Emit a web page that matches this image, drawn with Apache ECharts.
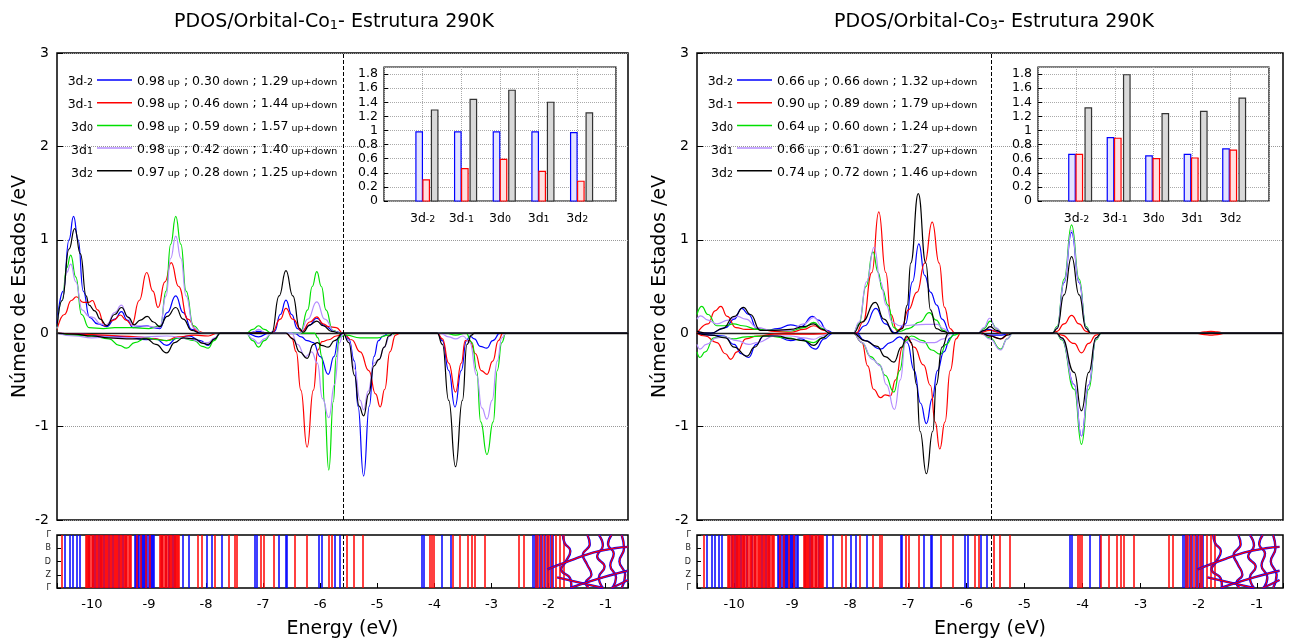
<!DOCTYPE html>
<html>
<head>
<meta charset="utf-8">
<script src="https://cdn.jsdelivr.net/npm/echarts/dist/echarts.min.js"></script>
<style>
html, body { margin: 0; padding: 0; background: #fff; }
#chart { width: 1291px; height: 641px; }
</style>
</head>
<body>
<div id="chart"></div>
<script>
// orbital charges (legend + inset bars)
var orbitalSubs = ['-2', '-1', '0', '1', '2'];
var co1Up = [0.98, 0.98, 0.98, 0.98, 0.97];
var co1Down = [0.30, 0.46, 0.59, 0.42, 0.28];
var co1Total = [1.29, 1.44, 1.57, 1.40, 1.25];
var co3Up = [0.66, 0.90, 0.64, 0.66, 0.74];
var co3Down = [0.66, 0.89, 0.60, 0.61, 0.72];
var co3Total = [1.32, 1.79, 1.24, 1.27, 1.46];
var kLabels = ['Γ', 'B', 'D', 'Z', 'Γ'];
var fermiCo1 = -5.60;
var fermiCo3 = -5.58;

// PDOS Co1, spin up  [energy, states/eV]
var co1UpM2 = [[-10.61,0.10],[-10.5,0.45],[-10.40,1.00],[-10.32,1.25],[-10.24,1.00],[-10.15,0.45],[-10.04,0.17],[-9.90,0.10],[-9.74,0.07],[-9.60,0.15],[-9.48,0.23],[-9.38,0.14],[-9.28,0.06],[-9.15,0.07],[-9.04,0.08],[-8.92,0.06],[-8.81,0.05],[-8.68,0.22],[-8.53,0.40],[-8.40,0.22],[-8.25,0.04],[-8.10,0],[-7.3,0],[-7.08,0.02],[-6.9,0],[-6.80,0.02],[-6.70,0.20],[-6.60,0.355],[-6.50,0.20],[-6.40,0.05],[-6.32,0.02],[-6.20,0.08],[-6.06,0.16],[-5.92,0.08],[-5.75,0.02],[-5.6,0],[-0.61,0]];
var co1UpM1 = [[-10.61,0.04],[-10.48,0.20],[-10.36,0.35],[-10.27,0.39],[-10.15,0.33],[-10.05,0.33],[-9.99,0.35],[-9.90,0.25],[-9.77,0.08],[-9.62,0.14],[-9.50,0.195],[-9.40,0.14],[-9.30,0.09],[-9.17,0.35],[-9.04,0.65],[-8.93,0.45],[-8.84,0.275],[-8.72,0.55],[-8.61,0.755],[-8.48,0.50],[-8.32,0.15],[-8.15,0.02],[-8.0,0],[-6.85,0],[-6.70,0.15],[-6.60,0.265],[-6.48,0.15],[-6.32,0.02],[-6.18,0.12],[-6.06,0.175],[-5.95,0.10],[-5.85,0.07],[-5.72,0.06],[-5.60,0],[-0.61,0]];
var co1Up0 = [[-10.61,0.05],[-10.52,0.35],[-10.44,0.70],[-10.37,0.835],[-10.28,0.60],[-10.18,0.20],[-10.05,0.06],[-9.8,0.05],[-9.6,0.06],[-9.3,0.06],[-9.0,0.05],[-8.8,0.08],[-8.70,0.45],[-8.62,0.95],[-8.53,1.25],[-8.44,0.95],[-8.35,0.45],[-8.22,0.08],[-8.07,0],[-7.3,0],[-7.18,0.04],[-7.08,0.08],[-6.98,0.04],[-6.85,0],[-6.35,0],[-6.22,0.25],[-6.14,0.50],[-6.06,0.66],[-5.98,0.50],[-5.90,0.25],[-5.78,0.03],[-5.65,0],[-0.61,0]];
var co1UpP1 = [[-10.61,0.05],[-10.52,0.35],[-10.44,0.65],[-10.37,0.74],[-10.28,0.55],[-10.17,0.25],[-10.05,0.18],[-9.98,0.17],[-9.85,0.10],[-9.74,0.09],[-9.60,0.22],[-9.48,0.30],[-9.38,0.18],[-9.28,0.08],[-9.04,0.075],[-8.81,0.06],[-8.70,0.40],[-8.62,0.80],[-8.53,1.04],[-8.44,0.80],[-8.35,0.40],[-8.22,0.06],[-8.07,0],[-7.2,0],[-7.08,0.04],[-6.95,0],[-6.35,0],[-6.22,0.15],[-6.06,0.335],[-5.92,0.15],[-5.75,0.02],[-5.65,0],[-0.61,0]];
var co1UpP2 = [[-10.61,0.07],[-10.52,0.35],[-10.40,0.90],[-10.30,1.12],[-10.20,0.85],[-10.10,0.40],[-10.05,0.30],[-9.95,0.24],[-9.85,0.15],[-9.74,0.08],[-9.60,0.20],[-9.48,0.275],[-9.36,0.17],[-9.26,0.09],[-9.15,0.14],[-9.03,0.18],[-8.92,0.12],[-8.81,0.07],[-8.68,0.18],[-8.53,0.275],[-8.40,0.15],[-8.25,0.03],[-8.1,0],[-6.85,0],[-6.72,0.40],[-6.60,0.67],[-6.48,0.40],[-6.36,0.05],[-6.30,0.01],[-6.18,0.09],[-6.06,0.13],[-5.95,0.08],[-5.80,0.02],[-5.65,0],[-0.61,0]];

// PDOS Co1, spin down
var co1DnM2 = [[-10.61,0],[-10.2,-0.01],[-9.8,-0.03],[-9.4,-0.04],[-9.04,-0.07],[-8.88,-0.06],[-8.69,-0.13],[-8.50,-0.05],[-8.3,-0.03],[-8.10,-0.08],[-7.96,-0.13],[-7.85,-0.06],[-7.75,0],[-7.3,0],[-7.08,-0.04],[-6.9,0],[-6.45,0],[-6.33,-0.04],[-6.23,-0.08],[-6.12,-0.10],[-6.0,-0.25],[-5.86,-0.44],[-5.76,-0.25],[-5.68,-0.05],[-5.60,0],[-5.50,-0.06],[-5.40,-0.30],[-5.34,-0.78],[-5.24,-1.53],[-5.14,-0.78],[-5.06,-0.25],[-4.98,-0.08],[-4.90,-0.03],[-4.80,0],[-3.95,0],[-3.86,-0.08],[-3.75,-0.40],[-3.64,-0.79],[-3.53,-0.40],[-3.44,-0.08],[-3.38,-0.03],[-3.30,-0.06],[-3.20,-0.14],[-3.08,-0.16],[-2.98,-0.08],[-2.85,0],[-0.61,0]];
var co1DnM1 = [[-10.61,0],[-10.2,-0.01],[-9.8,-0.02],[-9.5,-0.03],[-9.2,-0.04],[-8.9,-0.06],[-8.69,-0.08],[-8.5,-0.04],[-8.2,-0.02],[-7.96,-0.03],[-7.8,0],[-6.60,0],[-6.50,-0.05],[-6.42,-0.20],[-6.34,-0.61],[-6.23,-1.22],[-6.12,-0.61],[-6.04,-0.18],[-5.97,-0.09],[-5.85,-0.07],[-5.72,-0.03],[-5.60,0],[-5.45,-0.07],[-5.30,-0.20],[-5.15,-0.40],[-5.03,-0.65],[-4.95,-0.79],[-4.87,-0.60],[-4.78,-0.20],[-4.68,-0.02],[-4.6,0],[-3.95,0],[-3.86,-0.06],[-3.75,-0.32],[-3.63,-0.63],[-3.53,-0.32],[-3.46,-0.08],[-3.38,-0.08],[-3.28,-0.22],[-3.18,-0.40],[-3.08,-0.44],[-2.98,-0.30],[-2.88,-0.08],[-2.80,0],[-0.61,0]];
var co1Dn0 = [[-10.61,0],[-10.3,-0.02],[-10.0,-0.03],[-9.7,-0.06],[-9.52,-0.13],[-9.39,-0.16],[-9.25,-0.10],[-9.04,-0.05],[-8.85,-0.07],[-8.69,-0.08],[-8.45,-0.05],[-8.2,-0.08],[-8.07,-0.14],[-7.96,-0.16],[-7.86,-0.08],[-7.75,0],[-7.3,0],[-7.18,-0.08],[-7.08,-0.15],[-6.98,-0.08],[-6.85,0],[-6.10,0],[-6.04,-0.05],[-5.97,-0.25],[-5.93,-0.73],[-5.85,-1.465],[-5.77,-0.73],[-5.72,-0.25],[-5.66,-0.04],[-5.55,-0.02],[-5.30,-0.05],[-5.0,-0.05],[-4.80,-0.02],[-4.65,0],[-3.8,0],[-3.63,-0.02],[-3.45,0],[-3.34,-0.10],[-3.26,-0.40],[-3.19,-0.95],[-3.08,-1.30],[-2.97,-0.95],[-2.90,-0.40],[-2.82,-0.10],[-2.75,0],[-0.61,0]];
var co1DnP1 = [[-10.61,0],[-10.3,-0.03],[-10.0,-0.05],[-9.7,-0.04],[-9.39,-0.05],[-9.04,-0.04],[-8.69,-0.03],[-8.3,-0.06],[-8.05,-0.10],[-7.96,-0.10],[-7.85,-0.05],[-7.75,0],[-7.3,0],[-7.18,-0.06],[-7.08,-0.11],[-6.98,-0.06],[-6.85,0],[-6.50,0],[-6.40,-0.12],[-6.26,-0.25],[-6.15,-0.20],[-6.05,-0.32],[-5.96,-0.70],[-5.85,-0.905],[-5.75,-0.55],[-5.66,-0.10],[-5.60,0],[-5.50,-0.08],[-5.40,-0.38],[-5.30,-0.72],[-5.24,-0.82],[-5.16,-0.62],[-5.06,-0.32],[-4.97,-0.28],[-4.88,-0.15],[-4.78,-0.03],[-4.70,0],[-3.90,0],[-3.75,-0.04],[-3.63,-0.06],[-3.50,-0.03],[-3.38,-0.10],[-3.26,-0.45],[-3.17,-0.80],[-3.08,-0.92],[-2.99,-0.72],[-2.90,-0.30],[-2.82,-0.05],[-2.75,0],[-0.61,0]];
var co1DnP2 = [[-10.61,0],[-10.3,-0.01],[-10.0,-0.03],[-9.7,-0.05],[-9.39,-0.06],[-9.04,-0.06],[-8.88,-0.12],[-8.69,-0.21],[-8.55,-0.10],[-8.40,-0.05],[-8.2,-0.06],[-8.05,-0.11],[-7.96,-0.12],[-7.85,-0.06],[-7.75,0],[-6.60,0],[-6.48,-0.06],[-6.36,-0.20],[-6.23,-0.27],[-6.12,-0.12],[-6.05,-0.10],[-5.98,-0.13],[-5.86,-0.15],[-5.75,-0.08],[-5.60,0],[-5.50,-0.10],[-5.40,-0.45],[-5.32,-0.78],[-5.24,-0.885],[-5.15,-0.65],[-5.06,-0.35],[-4.97,-0.28],[-4.88,-0.15],[-4.80,-0.03],[-4.72,0],[-3.95,0],[-3.86,-0.12],[-3.75,-0.72],[-3.63,-1.43],[-3.51,-0.72],[-3.43,-0.12],[-3.35,-0.02],[-3.3,0],[-0.61,0]];

// PDOS Co3, spin up
var co3UpM2 = [[-10.64,0.01],[-10.4,0],[-10.15,0.06],[-10.0,0.15],[-9.87,0.265],[-9.75,0.20],[-9.61,0.05],[-9.45,0.03],[-9.25,0.05],[-9.03,0.09],[-8.85,0.07],[-8.65,0.18],[-8.55,0.14],[-8.40,0.03],[-8.29,0],[-7.90,0],[-7.75,0.08],[-7.56,0.265],[-7.40,0.10],[-7.22,0],[-7.05,0.10],[-6.93,0.55],[-6.82,0.957],[-6.72,0.62],[-6.62,0.44],[-6.51,0.30],[-6.42,0.15],[-6.28,0],[-5.80,0],[-5.62,0.04],[-5.50,0.02],[-5.35,0],[-4.52,0],[-4.44,0.06],[-4.32,0.54],[-4.19,1.08],[-4.06,0.54],[-3.94,0.06],[-3.86,0],[-0.55,0]];
var co3UpM1 = [[-10.64,0],[-10.45,0.10],[-10.33,0.24],[-10.23,0.287],[-10.12,0.18],[-9.97,0.06],[-9.80,0.04],[-9.55,0.04],[-9.3,0.02],[-9.03,0.01],[-8.8,0.04],[-8.63,0.08],[-8.45,0.03],[-8.3,0],[-7.90,0],[-7.78,0.12],[-7.63,0.65],[-7.51,1.30],[-7.39,0.65],[-7.30,0.20],[-7.20,0.03],[-7.12,0.05],[-7.00,0.25],[-6.85,0.44],[-6.72,0.75],[-6.59,1.19],[-6.47,0.75],[-6.38,0.28],[-6.28,0.05],[-6.20,0],[-5.8,0],[-5.59,0.03],[-5.4,0],[-4.52,0],[-4.44,0.02],[-4.32,0.10],[-4.19,0.19],[-4.06,0.10],[-3.94,0.02],[-3.86,0],[-2.05,0],[-1.90,0.015],[-1.79,0.02],[-1.68,0.015],[-1.55,0],[-0.55,0]];
var co3Up0 = [[-10.64,0.20],[-10.56,0.287],[-10.45,0.20],[-10.30,0.08],[-10.15,0.08],[-10.01,0.10],[-9.85,0.08],[-9.6,0.04],[-9.3,0.03],[-9.03,0.025],[-8.80,0.06],[-8.63,0.115],[-8.48,0.05],[-8.35,0],[-7.95,0],[-7.85,0.10],[-7.73,0.50],[-7.61,0.87],[-7.52,0.65],[-7.45,0.47],[-7.35,0.30],[-7.25,0.06],[-7.15,0.02],[-7.0,0.05],[-6.80,0.12],[-6.64,0.22],[-6.52,0.14],[-6.40,0.03],[-6.28,0],[-5.80,0],[-5.70,0.05],[-5.59,0.13],[-5.48,0.05],[-5.38,0],[-4.52,0],[-4.44,0.07],[-4.32,0.58],[-4.19,1.16],[-4.06,0.58],[-3.94,0.07],[-3.86,0],[-0.55,0]];
var co3UpP1 = [[-10.64,0.15],[-10.58,0.186],[-10.45,0.14],[-10.30,0.10],[-10.10,0.14],[-9.95,0.18],[-9.80,0.15],[-9.60,0.06],[-9.35,0.03],[-9.03,0.03],[-8.80,0.10],[-8.63,0.17],[-8.48,0.07],[-8.35,0],[-7.95,0],[-7.85,0.12],[-7.72,0.55],[-7.59,0.92],[-7.48,0.55],[-7.38,0.30],[-7.28,0.12],[-7.15,0.08],[-7.05,0.08],[-6.90,0.09],[-6.70,0.095],[-6.50,0.095],[-6.40,0.05],[-6.28,0],[-5.80,0],[-5.70,0.06],[-5.60,0.16],[-5.50,0.06],[-5.38,0],[-4.52,0],[-4.44,0.06],[-4.32,0.55],[-4.19,1.10],[-4.06,0.55],[-3.94,0.06],[-3.86,0],[-0.55,0]];
var co3UpP2 = [[-10.64,0.02],[-10.4,0],[-10.2,0.05],[-10.0,0.18],[-9.84,0.276],[-9.72,0.20],[-9.55,0.03],[-9.30,0.03],[-9.03,0.04],[-8.80,0.07],[-8.63,0.10],[-8.48,0.04],[-8.35,0],[-7.95,0],[-7.80,0.12],[-7.57,0.33],[-7.42,0.15],[-7.25,0],[-7.10,0.05],[-7.02,0.30],[-6.96,0.75],[-6.83,1.495],[-6.70,0.75],[-6.62,0.25],[-6.52,0.05],[-6.40,0.02],[-6.30,0],[-5.80,0],[-5.70,0.03],[-5.59,0.07],[-5.48,0.03],[-5.38,0],[-4.52,0],[-4.44,0.05],[-4.32,0.41],[-4.19,0.82],[-4.06,0.41],[-3.94,0.05],[-3.86,0],[-0.55,0]];

// PDOS Co3, spin down
var co3DnM2 = [[-10.64,0],[-10.4,-0.02],[-10.18,-0.03],[-10.0,-0.12],[-9.88,-0.22],[-9.75,-0.26],[-9.62,-0.12],[-9.49,-0.03],[-9.30,-0.03],[-9.03,-0.08],[-8.85,-0.06],[-8.60,-0.17],[-8.45,-0.06],[-8.30,0],[-7.90,0],[-7.75,-0.08],[-7.48,-0.17],[-7.31,-0.10],[-7.15,-0.04],[-7.02,-0.10],[-6.90,-0.40],[-6.79,-0.75],[-6.69,-0.968],[-6.59,-0.70],[-6.50,-0.40],[-6.39,-0.20],[-6.28,-0.05],[-6.20,0],[-5.80,0],[-5.60,-0.02],[-5.40,-0.02],[-5.25,0],[-4.45,0],[-4.36,-0.06],[-4.145,-0.55],[-4.02,-1.10],[-3.895,-0.55],[-3.77,-0.06],[-3.68,0],[-0.55,0]];
var co3DnM1 = [[-10.64,0],[-10.50,-0.03],[-10.30,-0.10],[-10.15,-0.22],[-10.06,-0.28],[-9.95,-0.20],[-9.80,-0.06],[-9.60,-0.03],[-9.30,-0.01],[-8.63,-0.01],[-8.3,0],[-7.95,0],[-7.80,-0.10],[-7.70,-0.35],[-7.60,-0.60],[-7.48,-0.69],[-7.40,-0.66],[-7.31,-0.67],[-7.22,-0.50],[-7.10,-0.15],[-7.02,-0.04],[-6.90,-0.15],[-6.74,-0.34],[-6.62,-0.56],[-6.54,-0.95],[-6.46,-1.24],[-6.37,-0.95],[-6.28,-0.40],[-6.18,-0.06],[-6.10,0],[-5.80,0],[-5.60,-0.03],[-5.41,-0.06],[-5.25,0],[-4.45,0],[-4.36,-0.02],[-4.145,-0.11],[-4.02,-0.21],[-3.895,-0.11],[-3.77,-0.02],[-3.68,0],[-2.05,0],[-1.90,-0.015],[-1.79,-0.02],[-1.68,-0.015],[-1.55,0],[-0.55,0]];
var co3Dn0 = [[-10.64,-0.20],[-10.59,-0.26],[-10.50,-0.20],[-10.35,-0.05],[-10.20,-0.04],[-10.01,-0.06],[-9.80,-0.04],[-9.44,-0.03],[-9.10,-0.05],[-8.80,-0.08],[-8.63,-0.10],[-8.48,-0.05],[-8.35,0],[-7.95,0],[-7.80,-0.10],[-7.65,-0.25],[-7.51,-0.33],[-7.40,-0.45],[-7.25,-0.63],[-7.15,-0.40],[-7.05,-0.08],[-6.95,-0.03],[-6.75,-0.08],[-6.60,-0.18],[-6.45,-0.225],[-6.35,-0.12],[-6.22,-0.02],[-6.10,0],[-5.75,0],[-5.60,-0.05],[-5.41,-0.17],[-5.30,-0.06],[-5.20,0],[-4.45,0],[-4.36,-0.07],[-4.145,-0.60],[-4.02,-1.19],[-3.895,-0.60],[-3.77,-0.07],[-3.68,0],[-0.55,0]];
var co3DnP1 = [[-10.64,-0.12],[-10.59,-0.17],[-10.48,-0.12],[-10.30,-0.05],[-10.18,-0.04],[-9.95,-0.08],[-9.75,-0.12],[-9.60,-0.10],[-9.30,-0.03],[-9.03,-0.03],[-8.80,-0.05],[-8.63,-0.065],[-8.48,-0.03],[-8.35,0],[-7.95,0],[-7.80,-0.10],[-7.62,-0.28],[-7.48,-0.35],[-7.38,-0.55],[-7.24,-0.817],[-7.14,-0.50],[-7.05,-0.10],[-6.95,-0.06],[-6.75,-0.10],[-6.55,-0.10],[-6.40,-0.06],[-6.25,0],[-5.75,0],[-5.60,-0.06],[-5.41,-0.18],[-5.30,-0.06],[-5.20,0],[-4.45,0],[-4.36,-0.06],[-4.145,-0.55],[-4.02,-1.10],[-3.895,-0.55],[-3.77,-0.06],[-3.68,0],[-0.55,0]];
var co3DnP2 = [[-10.64,0],[-10.40,-0.02],[-10.15,-0.05],[-10.00,-0.15],[-9.78,-0.245],[-9.65,-0.15],[-9.49,-0.03],[-9.25,-0.03],[-9.03,-0.06],[-8.80,-0.08],[-8.63,-0.13],[-8.48,-0.05],[-8.35,0],[-7.95,0],[-7.75,-0.08],[-7.54,-0.14],[-7.40,-0.25],[-7.25,-0.31],[-7.12,-0.15],[-7.03,-0.03],[-6.95,-0.10],[-6.86,-0.55],[-6.80,-1.05],[-6.69,-1.505],[-6.58,-1.05],[-6.52,-0.55],[-6.42,-0.15],[-6.31,0],[-5.75,0],[-5.60,-0.03],[-5.41,-0.06],[-5.30,-0.02],[-5.20,0],[-4.45,0],[-4.36,-0.05],[-4.145,-0.42],[-4.02,-0.83],[-3.895,-0.42],[-3.77,-0.05],[-3.68,0],[-0.55,0]];

// band structure strip: flat bands (eV) and dispersive bands [eV, k]
var bandsBlue = [-10.47,-10.39,-10.33,-10.27,-10.21,-10.05,-9.99,-9.95,-9.88,-9.84,-9.79,-9.70,-9.64,-9.53,-9.46,-9.40,-9.25,-9.23,-9.21,-9.19,-9.17,-9.15,-9.13,-9.11,-9.09,-9.07,-9.05,-9.03,-9.01,-8.99,-8.97,-8.95,-8.93,-8.91,-8.78,-8.70,-8.66,-8.59,-8.55,-8.40,-8.31,-7.99,-7.90,-7.72,-7.14,-7.12,-6.73,-6.61,-6.59,-6.03,-5.97,-5.75,-5.65,-4.23,-4.18,-3.87,-3.71,-2.27,-2.24,-2.20,-2.16,-2.12,-2.06,-2.02,-1.97,-1.93];
var bandsRed = [-10.53,-10.11,-10.09,-10.07,-10.05,-10.03,-10.01,-9.98,-9.96,-9.94,-9.92,-9.90,-9.87,-9.85,-9.83,-9.81,-9.78,-9.76,-9.74,-9.72,-9.69,-9.67,-9.65,-9.62,-9.60,-9.58,-9.56,-9.54,-9.51,-9.49,-9.47,-9.44,-9.42,-9.40,-9.38,-9.36,-9.33,-9.31,-9.22,-9.14,-9.06,-8.98,-8.81,-8.79,-8.77,-8.75,-8.73,-8.71,-8.68,-8.66,-8.64,-8.62,-8.60,-8.57,-8.55,-8.53,-8.51,-8.49,-8.47,-8.14,-8.08,-7.84,-7.61,-7.49,-7.46,-7.05,-6.99,-6.82,-6.44,-6.23,-5.85,-5.79,-5.53,-5.42,-5.26,-4.08,-4.05,-4.01,-3.68,-3.55,-3.41,-3.35,-3.30,-3.12,-2.52,-2.44,-2.23,-2.19,-2.14,-2.09,-2.04,-1.99,-1.95,-1.87,-1.80,-1.73];
var bandCurves = [
  [[-1.75,0],[-1.72,0.6],[-1.62,1.2],[-1.70,2.0],[-1.78,2.6],[-1.62,3.3],[-1.60,4]],
  [[-1.32,0],[-1.28,0.7],[-1.40,1.5],[-1.33,2.2],[-1.25,3.0],[-1.35,3.6],[-1.30,4]],
  [[-1.12,0],[-1.05,0.8],[-1.15,1.6],[-1.02,2.4],[-1.12,3.2],[-1.05,4]],
  [[-0.90,0],[-0.96,0.7],[-0.86,1.4],[-0.92,2.3],[-0.82,3.2],[-0.88,4]],
  [[-0.72,0],[-0.68,1.0],[-0.76,2.0],[-0.66,3.0],[-0.72,4]],
  [[-2.02,2.6],[-1.85,2.3],[-1.60,1.9],[-1.35,1.5],[-1.10,1.2],[-0.85,1.0],[-0.61,0.9]],
  [[-1.85,3.2],[-1.55,3.5],[-1.25,3.8],[-1.05,4]],
  [[-1.62,4],[-1.35,3.6],[-1.05,3.2],[-0.80,2.9],[-0.61,2.7]],
  [[-0.61,3.4],[-0.75,3.7],[-0.90,4]]
];

var colors = ['#0000ff', '#ff0000', '#00e000', '#b48cff', '#000000'];
var font = 'DejaVu Sans';

var chart = echarts.init(document.getElementById('chart'));

function pdos(name, data, color, axis, fermi) {
  var s = {
    type: 'line', name: name, data: data, xAxisIndex: axis, yAxisIndex: axis,
    smooth: 0.5, smoothMonotone: 'x', showSymbol: false, symbol: 'none', silent: true,
    lineStyle: { color: color, width: 1.2 }, itemStyle: { color: color }
  };
  if (fermi !== undefined) {
    s.markLine = { silent: true, symbol: ['none', 'none'], label: { show: false },
      lineStyle: { type: 'dashed', color: '#000', width: 1 }, data: [{ xAxis: fermi }] };
  }
  return s;
}

function bars(values, axis, offset, fill, stroke) {
  return {
    type: 'custom', xAxisIndex: axis, yAxisIndex: axis, silent: true, z: 3,
    data: values.map(function (v, i) { return [i + 1, v]; }),
    renderItem: function (params, api) {
      var top = api.coord([api.value(0), api.value(1)]);
      var base = api.coord([api.value(0), 0]);
      return { type: 'rect',
        shape: { x: top[0] + offset - 3.25, y: top[1], width: 6.5, height: base[1] - top[1] },
        style: { fill: fill, stroke: stroke, lineWidth: 1.2 } };
    }
  };
}

function bandSeries(axis, fermi) {
  var out = [];
  out.push({ type: 'lines', coordinateSystem: 'cartesian2d', xAxisIndex: axis, yAxisIndex: axis, silent: true,
    lineStyle: { color: '#0000ff', width: 1.5, opacity: 1 },
    data: bandsBlue.map(function (e) { return { coords: [[e, 0], [e, 4]] }; }) });
  out.push({ type: 'lines', coordinateSystem: 'cartesian2d', xAxisIndex: axis, yAxisIndex: axis, silent: true,
    lineStyle: { color: '#ff0000', width: 1.5, opacity: 1 },
    data: bandsRed.map(function (e) { return { coords: [[e, 0], [e, 4]] }; }) });
  bandCurves.forEach(function (c, i) {
    out.push({ type: 'line', data: c, xAxisIndex: axis, yAxisIndex: axis, smooth: 0.5, showSymbol: false,
      symbol: 'none', silent: true, lineStyle: { color: '#0000ff', width: 2.4 } });
    var red = { type: 'line', data: c, xAxisIndex: axis, yAxisIndex: axis, smooth: 0.5, showSymbol: false,
      symbol: 'none', silent: true, lineStyle: { color: '#ff0000', width: 1.2 } };
    if (i === 0) {
      red.markLine = { silent: true, symbol: ['none', 'none'], label: { show: false },
        lineStyle: { type: 'dashed', color: '#000', width: 1 }, data: [{ xAxis: fermi }] };
    }
    out.push(red);
  });
  return out;
}

function subText(s) { return '{n|3d}{s|' + s + '}'; }

var richLegend = {
  n: { fontFamily: font, fontSize: 12.5, color: '#000', lineHeight: 16, verticalAlign: 'bottom' },
  s: { fontFamily: font, fontSize: 9.5, color: '#000', lineHeight: 5, verticalAlign: 'bottom' }
};

function legendFor(prefix, left, up, down, total) {
  return {
    orient: 'vertical', left: left, top: 75, itemWidth: 35, itemHeight: 1.5, itemGap: 9.7,
    icon: 'rect', selectedMode: false, padding: 0,
    data: orbitalSubs.map(function (s, i) { return prefix + i; }),
    formatter: function (name) {
      var i = +name.slice(-1);
      return '{n|' + up[i].toFixed(2) + '}{s| up}{n| ; ' + down[i].toFixed(2) + '}{s| down}{n| ; ' +
        total[i].toFixed(2) + '}{s| up+down}';
    },
    textStyle: { rich: richLegend }
  };
}

function orbitalLabels(right) {
  return orbitalSubs.map(function (s, i) {
    return { type: 'text', x: right, y: 80 + i * 23,
      style: { text: subText(s), align: 'right', verticalAlign: 'middle', rich: richLegend } };
  });
}

function mainAxes(idx, min, max) {
  var x = { gridIndex: idx, type: 'value', min: min, max: max,
    axisLine: { show: true, onZero: true, lineStyle: { color: '#222', width: 1.4 } },
    axisTick: { show: false }, axisLabel: { show: false }, splitLine: { show: false } };
  var y = { gridIndex: idx, type: 'value', min: -2, max: 3, interval: 1,
    name: 'Número de Estados /eV', nameLocation: 'middle', nameGap: 27,
    nameTextStyle: { fontFamily: font, fontSize: 19, color: '#000' },
    axisLine: { show: false }, axisTick: { show: true, inside: true, length: 6, lineStyle: { color: '#000' } },
    axisLabel: { fontFamily: font, fontSize: 14, color: '#000', margin: 8 },
    splitLine: { show: true, lineStyle: { color: '#999', type: 'dotted', width: 1 } } };
  return [x, y];
}

function bandAxes(idx, min, max) {
  var x = { gridIndex: idx, type: 'value', min: min, max: max, splitNumber: 10, minInterval: 1, maxInterval: 1,
    name: 'Energy (eV)', nameLocation: 'middle', nameGap: 32,
    nameTextStyle: { fontFamily: font, fontSize: 19, color: '#000' },
    axisLine: { show: false, onZero: false }, axisTick: { show: true, inside: true, length: 5, lineStyle: { color: '#000' } },
    axisLabel: { fontFamily: font, fontSize: 13, color: '#000', margin: 10,
      formatter: function (v) { return Math.abs(v - Math.round(v)) < 1e-6 ? String(Math.round(v)) : ''; } },
    splitLine: { show: false } };
  var y = { gridIndex: idx, type: 'value', min: 0, max: 4, interval: 1, inverse: true,
    axisLine: { show: false, onZero: false }, axisTick: { show: true, inside: true, length: 4, lineStyle: { color: '#000' } },
    axisLabel: { fontFamily: font, fontSize: 8, color: '#222', margin: 6,
      formatter: function (v) { return kLabels[Math.round(v)]; } },
    splitLine: { show: false } };
  return [x, y];
}

function insetAxes(idx) {
  var x = { gridIndex: idx, type: 'value', min: 0, max: 6, interval: 1, z: 3,
    axisLine: { show: false, onZero: false }, axisTick: { show: false },
    axisLabel: { margin: 8, formatter: function (v) { return v >= 1 && v <= 5 ? subText(orbitalSubs[v - 1]) : ''; },
      rich: richLegend },
    splitLine: { show: true, lineStyle: { color: '#aaa', type: 'dotted' } } };
  var y = { gridIndex: idx, type: 'value', min: 0, max: 1.9, interval: 0.2, z: 3,
    axisLine: { show: false }, axisTick: { show: true, inside: true, length: 4, lineStyle: { color: '#000' } },
    axisLabel: { fontFamily: font, fontSize: 12.5, color: '#000', margin: 6, showMaxLabel: false },
    splitLine: { show: true, lineStyle: { color: '#aaa', type: 'dotted' } } };
  return [x, y];
}

var axL = mainAxes(0, -10.61, -0.61);
var bdL = bandAxes(1, -10.61, -0.61);
var inL = insetAxes(2);
var axR = mainAxes(3, -10.64, -0.55);
var bdR = bandAxes(4, -10.64, -0.55);
var inR = insetAxes(5);

var co1Sets = [[co1UpM2, co1DnM2], [co1UpM1, co1DnM1], [co1Up0, co1Dn0], [co1UpP1, co1DnP1], [co1UpP2, co1DnP2]];
var co3Sets = [[co3UpM2, co3DnM2], [co3UpM1, co3DnM1], [co3Up0, co3Dn0], [co3UpP1, co3DnP1], [co3UpP2, co3DnP2]];

var series = [];
co1Sets.forEach(function (pair, i) {
  series.push(pdos('co1' + i, pair[0], colors[i], 0, i === 0 ? fermiCo1 : undefined));
  series.push(pdos('co1' + i, pair[1], colors[i], 0));
});
co3Sets.forEach(function (pair, i) {
  series.push(pdos('co3' + i, pair[0], colors[i], 3, i === 0 ? fermiCo3 : undefined));
  series.push(pdos('co3' + i, pair[1], colors[i], 3));
});
series = series.concat(bandSeries(1, fermiCo1), bandSeries(4, fermiCo3));
series.push(bars(co1Up, 2, -3.5, '#e4e4ff', '#0000ff'));
series.push(bars(co1Down, 2, 3.5, '#ffe0e0', '#ff0000'));
series.push(bars(co1Total, 2, 12, '#d9d9d9', '#333333'));
series.push(bars(co3Up, 5, -4.5, '#e4e4ff', '#0000ff'));
series.push(bars(co3Down, 5, 2.8, '#ffe0e0', '#ff0000'));
series.push(bars(co3Total, 5, 11.8, '#d9d9d9', '#333333'));

var frame = { show: true, borderColor: '#000', borderWidth: 1.5, outerBoundsMode: 'none', containLabel: false };

var option = {
  backgroundColor: '#ffffff',
  animation: false,
  textStyle: { fontFamily: font },
  title: [
    { text: 'PDOS/Orbital-Co{s|1}- Estrutura 290K', left: 329, top: 8, textAlign: 'center',
      textStyle: { fontFamily: font, fontSize: 19, fontWeight: 'normal', color: '#000',
        rich: { s: { fontFamily: font, fontSize: 13, verticalAlign: 'bottom', lineHeight: 6 } } } },
    { text: 'PDOS/Orbital-Co{s|3}- Estrutura 290K', left: 989, top: 8, textAlign: 'center',
      textStyle: { fontFamily: font, fontSize: 19, fontWeight: 'normal', color: '#000',
        rich: { s: { fontFamily: font, fontSize: 13, verticalAlign: 'bottom', lineHeight: 6 } } } }
  ],
  legend: [
    legendFor('co1', 97, co1Up, co1Down, co1Total),
    legendFor('co3', 737, co3Up, co3Down, co3Total)
  ],
  graphic: orbitalLabels(93).concat(orbitalLabels(733)),
  grid: [
    Object.assign({}, frame, { left: 57, top: 53, width: 571, height: 467 }),
    Object.assign({}, frame, { left: 57, top: 535, width: 571, height: 53 }),
    Object.assign({}, frame, { left: 384, top: 67, width: 232, height: 134, backgroundColor: '#fff', borderWidth: 1.2, z: 1 }),
    Object.assign({}, frame, { left: 697, top: 53, width: 586, height: 467 }),
    Object.assign({}, frame, { left: 697, top: 535, width: 586, height: 53 }),
    Object.assign({}, frame, { left: 1038, top: 67, width: 231, height: 134, backgroundColor: '#fff', borderWidth: 1.2, z: 1 })
  ],
  xAxis: [axL[0], bdL[0], inL[0], axR[0], bdR[0], inR[0]],
  yAxis: [axL[1], bdL[1], inL[1], axR[1], bdR[1], inR[1]],
  series: series
};

chart.setOption(option);
window.addEventListener('resize', function () { chart.resize(); });
</script>
</body>
</html>
